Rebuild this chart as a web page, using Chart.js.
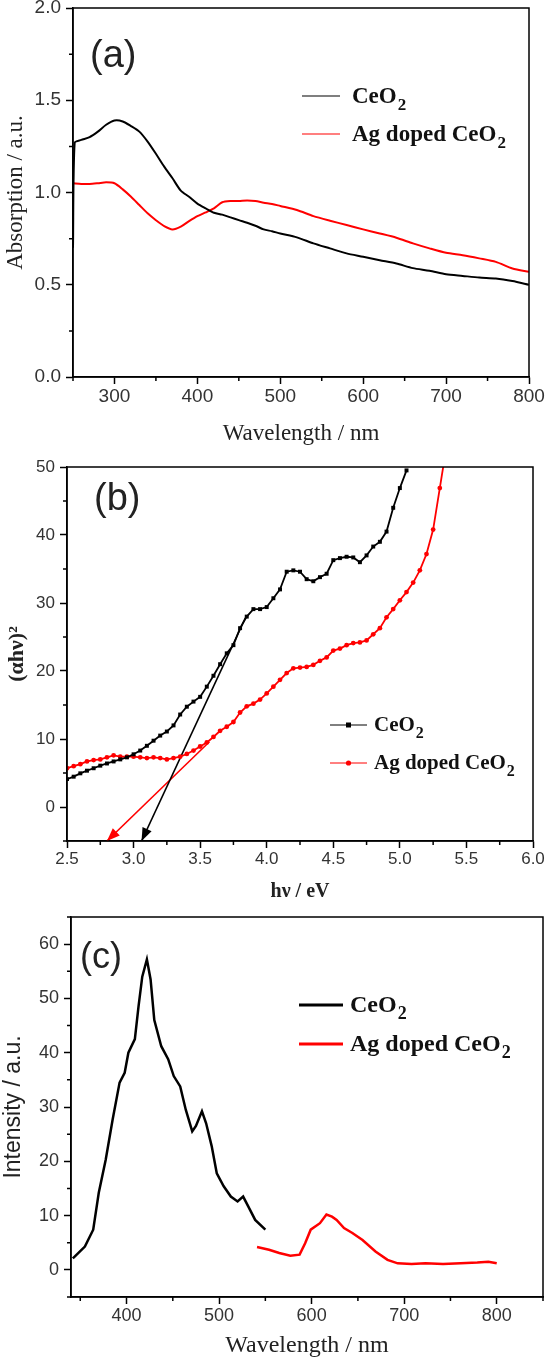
<!DOCTYPE html>
<html>
<head>
<meta charset="utf-8">
<script src="https://cdn.jsdelivr.net/npm/chart.js@4/dist/chart.umd.min.js"></script>
<style>
  html, body { margin: 0; padding: 0; background: #fff; }
  body { width: 546px; height: 1360px; position: relative; overflow: hidden; }
  canvas { position: absolute; left: 0; }
</style>
</head>
<body>
<canvas id="chartA" width="546" height="450" style="top:0"></canvas>
<canvas id="chartB" width="546" height="455" style="top:450px"></canvas>
<canvas id="chartC" width="546" height="455" style="top:905px"></canvas>
<script>
// (a) UV-vis absorption
var absWaveCe = [250,252,260,270,280,290,300,310,320,330,340,350,360,370,380,390,400,410,420,430,
  440,450,460,470,480,490,500,520,540,560,580,600,620,640,660,680,700,720,740,760,780,800];
var absCeO2 = [0.70,1.27,1.285,1.30,1.33,1.367,1.39,1.385,1.36,1.33,1.276,1.21,1.14,1.077,1.01,0.977,0.94,0.914,0.89,0.88,
  0.865,0.85,0.836,0.82,0.80,0.79,0.778,0.757,0.724,0.697,0.67,0.652,0.633,0.615,0.59,0.576,0.557,0.548,0.539,0.534,0.52,0.50];
var absWaveAg = [250,260,270,280,290,300,310,320,330,340,350,360,370,380,390,400,410,420,430,440,
  450,460,470,480,490,500,520,540,560,580,600,620,640,660,680,700,720,740,760,780,800];
var absAg = [1.05,1.046,1.046,1.05,1.055,1.05,1.017,0.977,0.932,0.887,0.85,0.818,0.80,0.815,0.845,0.872,0.892,0.914,0.947,0.954,
  0.954,0.957,0.954,0.945,0.938,0.927,0.905,0.872,0.847,0.824,0.80,0.778,0.755,0.724,0.697,0.673,0.66,0.643,0.624,0.588,0.57];
var absTicksX = [300,400,500,600,700,800];
var absTicksY = [0,0.5,1.0,1.5,2.0];

// (b) Tauc plot
var bandEnergyCe = [2.5,2.55,2.6,2.65,2.7,2.75,2.8,2.85,2.9,2.95,3.0,3.05,3.1,3.15,3.2,3.25,3.3,3.35,3.4,3.45,
  3.5,3.55,3.6,3.65,3.7,3.75,3.8,3.85,3.9,3.95,4.0,4.05,4.1,4.15,4.2,4.25,4.3,4.35,4.4,4.45,
  4.5,4.55,4.6,4.65,4.7,4.75,4.8,4.85,4.9,4.95,5.0,5.05];
var bandCeO2 = [4.1,4.46,4.95,5.34,5.7,6.08,6.4,6.7,7.0,7.3,7.75,8.3,9.0,9.75,10.5,11.1,12.0,13.6,14.75,15.5,
  16.2,17.7,19.3,21.0,22.6,23.8,26.3,28.0,29.1,29.1,29.4,30.7,32.0,34.6,34.8,34.6,33.5,33.2,33.8,34.3,
  36.3,36.6,36.8,36.7,36.0,37.0,38.3,39.0,40.5,44.0,46.9,49.5];
var bandEnergyAg = [2.5,2.55,2.6,2.65,2.7,2.75,2.8,2.85,2.9,2.95,3.0,3.05,3.1,3.15,3.2,3.25,3.3,3.35,3.4,3.45,
  3.5,3.55,3.6,3.65,3.7,3.75,3.8,3.85,3.9,3.95,4.0,4.05,4.1,4.15,4.2,4.25,4.3,4.35,4.4,4.45,
  4.5,4.55,4.6,4.65,4.7,4.75,4.8,4.85,4.9,4.95,5.0,5.05,5.1,5.15,5.2,5.25,5.3,5.35];
var bandAg = [5.7,6.0,6.3,6.7,6.9,7.0,7.3,7.6,7.4,7.4,7.4,7.3,7.2,7.3,7.2,7.0,7.2,7.4,7.8,8.3,
  8.9,9.5,10.3,11.2,11.8,12.5,13.9,14.8,15.2,15.8,16.7,17.7,18.7,19.7,20.4,20.5,20.6,20.9,21.5,22.0,
  23.0,23.3,23.8,24.1,24.2,24.5,25.4,26.3,27.9,29.1,30.4,31.6,33.0,34.8,37.2,40.8,46.9,53.0];
var fitCeX = [3.84, 3.06];
var fitCeY = [27.8, -5];
var fitAgX = [3.57, 2.80];
var fitAgY = [9.6, -5];
var bandTicksX = [2.5,3.0,3.5,4.0,4.5,5.0,5.5,6.0];
var bandTicksY = [0,10,20,30,40,50];

// (c) photoluminescence
var plWaveCe = [342,355,364,370,377.5,385,392.5,398,402,409,413,417,422,426,430,437.5,445,451,458,464,
  471,475,481.5,486,492,497.5,505,512.7,520,526,531.5,539,550];
var plCeO2 = [2.1,4.3,7.4,14.2,20.3,27.7,34.5,36.3,40,42.5,48.6,54,57.2,53.5,46,41.2,38.8,35.7,33.8,29.5,
  25.5,26.5,29.2,27,22.8,17.8,15.4,13.5,12.6,13.5,11.7,9.2,7.4];
var plWaveAg = [541,554,565,577,587,593,599,609,616,622,627,635,644,655,669,682,693,708,723,742,761,779,791,800];
var plAg = [4.2,3.7,3.1,2.6,2.8,4.9,7.4,8.6,10.2,9.8,9.2,7.7,6.8,5.5,3.4,1.85,1.2,1.1,1.2,1.1,1.2,1.35,1.5,1.2];
var plTicksX = [400,500,600,700,800];
var plTicksY = [0,10,20,30,40,50,60];

var SANS = '"Liberation Sans", Arial, sans-serif';
var SERIF = '"Liberation Serif", "Times New Roman", serif';
Chart.defaults.font.family = SANS;

function pts(xs, ys) {
  return xs.map(function (x, i) { return { x: x, y: ys[i] }; });
}

// frame, minor ticks, arrow heads, panel letter and legend with subscripts
var panelDecor = {
  id: 'panelDecor',
  afterDatasetsDraw: function (chart) {
    var ctx = chart.ctx;
    chart.data.datasets.forEach(function (ds, i) {
      if (!ds.arrowHead) return;
      var el = chart.getDatasetMeta(i).data;
      var p1 = el[el.length - 2], p2 = el[el.length - 1];
      var ang = Math.atan2(p2.y - p1.y, p2.x - p1.x);
      ctx.save();
      ctx.translate(p2.x, p2.y);
      ctx.rotate(ang);
      ctx.beginPath();
      ctx.moveTo(0, 0);
      ctx.lineTo(-13, -5);
      ctx.lineTo(-13, 5);
      ctx.closePath();
      ctx.fillStyle = ds.borderColor;
      ctx.fill();
      ctx.restore();
    });
  },
  afterDraw: function (chart, args, o) {
    var ctx = chart.ctx, a = chart.chartArea;
    ctx.save();
    ctx.strokeStyle = '#000';
    ctx.lineWidth = 1.5;
    ctx.strokeRect(a.left, a.top, a.right - a.left, a.bottom - a.top);

    // minor ticks halfway between the major ones
    ['x', 'y'].forEach(function (id) {
      var s = chart.scales[id], t = s.ticks;
      var step = t[1].value - t[0].value;
      ctx.beginPath();
      for (var v = t[0].value - step / 2; v <= s.max + 1e-9; v += step) {
        if (v < s.min - 1e-9) continue;
        var p = s.getPixelForValue(v);
        if (id === 'x') { ctx.moveTo(p, a.bottom); ctx.lineTo(p, a.bottom + 4); }
        else { ctx.moveTo(a.left, p); ctx.lineTo(a.left - 4, p); }
      }
      ctx.stroke();
    });

    ctx.fillStyle = '#222';
    ctx.font = o.labelSize + 'px ' + SANS;
    ctx.textBaseline = 'alphabetic';
    ctx.fillText(o.label, o.labelX, o.labelY);

    var row = 0;
    chart.data.datasets.forEach(function (ds) {
      if (!ds.label) return;
      var y = o.legendY + row * o.legendDy;
      row++;
      ctx.strokeStyle = ds.borderColor;
      ctx.lineWidth = o.legendLine;
      ctx.beginPath();
      ctx.moveTo(o.legendX, y);
      ctx.lineTo(o.legendX + o.legendLen, y);
      ctx.stroke();
      if (o.legendMarker) {
        var mx = o.legendX + o.legendLen / 2;
        ctx.fillStyle = ds.borderColor;
        ctx.beginPath();
        if (ds.pointStyle === 'rect') ctx.rect(mx - 2.5, y - 2.5, 5, 5);
        else ctx.arc(mx, y, 2.6, 0, Math.PI * 2);
        ctx.fill();
      }
      var base = ds.label.slice(0, -1), sub = ds.label.slice(-1);
      var tx = o.legendX + o.legendLen + o.legendGap;
      var by = y + o.legendSize * 0.3;
      ctx.fillStyle = '#111';
      ctx.font = 'bold ' + o.legendSize + 'px ' + SERIF;
      ctx.fillText(base, tx, by);
      var w = ctx.measureText(base).width;
      ctx.font = 'bold ' + Math.round(o.legendSize * 0.75) + 'px ' + SERIF;
      ctx.fillText(sub, tx + w + 1, by + o.legendSize * 0.3);
    });
    ctx.restore();
  }
};

function axisOpts(p) {
  var horiz = p.horiz;
  return {
    type: 'linear',
    min: p.min,
    max: p.max,
    border: { color: '#000', width: 1.5 },
    grid: { drawOnChartArea: false, tickLength: 7, tickColor: '#000', tickWidth: 1.5 },
    ticks: {
      color: '#333',
      padding: horiz ? 3 : 5,
      autoSkip: false,
      maxRotation: 0,
      font: { family: SANS, size: p.tickSize, lineHeight: 1 },
      callback: function (v) { return p.fmt ? v.toFixed(p.fmt) : String(v); }
    },
    title: {
      display: true,
      text: p.title,
      color: '#222',
      font: p.titleFont,
      padding: horiz ? { top: 0, bottom: p.titlePad } : { top: p.titlePad, bottom: 0 }
    },
    afterBuildTicks: function (s) {
      s.ticks = p.ticks.map(function (v) { return { value: v }; });
    },
    afterFit: function (s) {
      if (horiz) { s.height = p.size; s.paddingLeft = 0; s.paddingRight = 0; }
      else { s.width = p.size; s.paddingTop = 0; s.paddingBottom = 0; }
    }
  };
}

function makeChart(id, datasets, padding, xAxis, yAxis, decor) {
  xAxis.horiz = true;
  return new Chart(document.getElementById(id), {
    type: 'scatter',
    data: { datasets: datasets },
    plugins: [panelDecor],
    options: {
      responsive: false,
      animation: false,
      events: [],
      layout: { padding: padding },
      plugins: {
        legend: { display: false },
        tooltip: { enabled: false },
        panelDecor: decor
      },
      scales: { x: axisOpts(xAxis), y: axisOpts(yAxis) }
    }
  });
}

// (a)
makeChart('chartA', [
  { label: 'CeO2', data: pts(absWaveCe, absCeO2), showLine: true, borderColor: '#000', borderWidth: 2,
    pointRadius: 0, tension: 0.25 },
  { label: 'Ag doped CeO2', data: pts(absWaveAg, absAg), showLine: true, borderColor: '#ff0000', borderWidth: 2,
    pointRadius: 0, tension: 0.25 }
], { top: 8, right: 17, left: 0, bottom: 0 },
{ min: 250, max: 800, ticks: absTicksX, tickSize: 19, size: 73, title: 'Wavelength / nm',
  titleFont: { family: SERIF, size: 23 }, titlePad: 2 },
{ min: 0, max: 2, ticks: absTicksY, tickSize: 19, fmt: 1, size: 73, title: 'Absorption / a.u.',
  titleFont: { family: SERIF, size: 23 }, titlePad: 2 },
{ label: '(a)', labelX: 90, labelY: 67, labelSize: 38,
  legendX: 302, legendY: 96, legendDy: 38, legendLen: 38, legendGap: 12, legendSize: 23, legendLine: 1.2 });

// (b)
makeChart('chartB', [
  { label: 'CeO2', data: pts(bandEnergyCe, bandCeO2), showLine: true, borderColor: '#000', backgroundColor: '#000',
    borderWidth: 1.8, pointStyle: 'rect', pointRadius: 2.8, pointBorderWidth: 0 },
  { label: 'Ag doped CeO2', data: pts(bandEnergyAg, bandAg), showLine: true, borderColor: '#ff0000',
    backgroundColor: '#ff0000', borderWidth: 1.8, pointStyle: 'circle', pointRadius: 2.4, pointBorderWidth: 0 },
  { data: pts(fitCeX, fitCeY), showLine: true, borderColor: '#000', borderWidth: 1.6, pointRadius: 0, arrowHead: true },
  { data: pts(fitAgX, fitAgY), showLine: true, borderColor: '#ff0000', borderWidth: 1.6, pointRadius: 0, arrowHead: true }
], { top: 17, right: 13, left: 0, bottom: 0 },
{ min: 2.5, max: 6.0, ticks: bandTicksX, tickSize: 17, fmt: 1, size: 64, title: 'hν / eV',
  titleFont: { family: SERIF, size: 20, weight: 'bold' }, titlePad: 1 },
{ min: -5, max: 50, ticks: bandTicksY, tickSize: 17, size: 67, title: '(αhν)²',
  titleFont: { family: SERIF, size: 22, weight: 'bold' }, titlePad: 4 },
{ label: '(b)', labelX: 94, labelY: 60, labelSize: 38,
  legendX: 330, legendY: 275, legendDy: 38, legendLen: 37, legendGap: 7, legendSize: 21, legendLine: 1,
  legendMarker: true });

// (c)
makeChart('chartC', [
  { label: 'CeO2', data: pts(plWaveCe, plCeO2), showLine: true, borderColor: '#000', borderWidth: 2.5, pointRadius: 0 },
  { label: 'Ag doped CeO2', data: pts(plWaveAg, plAg), showLine: true, borderColor: '#ff0000', borderWidth: 2.5,
    pointRadius: 0 }
], { top: 12, right: 3, left: 0, bottom: 0 },
{ min: 340, max: 850, ticks: plTicksX, tickSize: 18, size: 63, title: 'Wavelength / nm',
  titleFont: { family: SERIF, size: 24 }, titlePad: 0 },
{ min: -5, max: 65, ticks: plTicksY, tickSize: 18, size: 71, title: 'Intensity / a.u.',
  titleFont: { family: SANS, size: 23 }, titlePad: 0 },
{ label: '(c)', labelX: 80, labelY: 63, labelSize: 36,
  legendX: 299, legendY: 100, legendDy: 39, legendLen: 44, legendGap: 7, legendSize: 24, legendLine: 3 });
</script>
</body>
</html>
